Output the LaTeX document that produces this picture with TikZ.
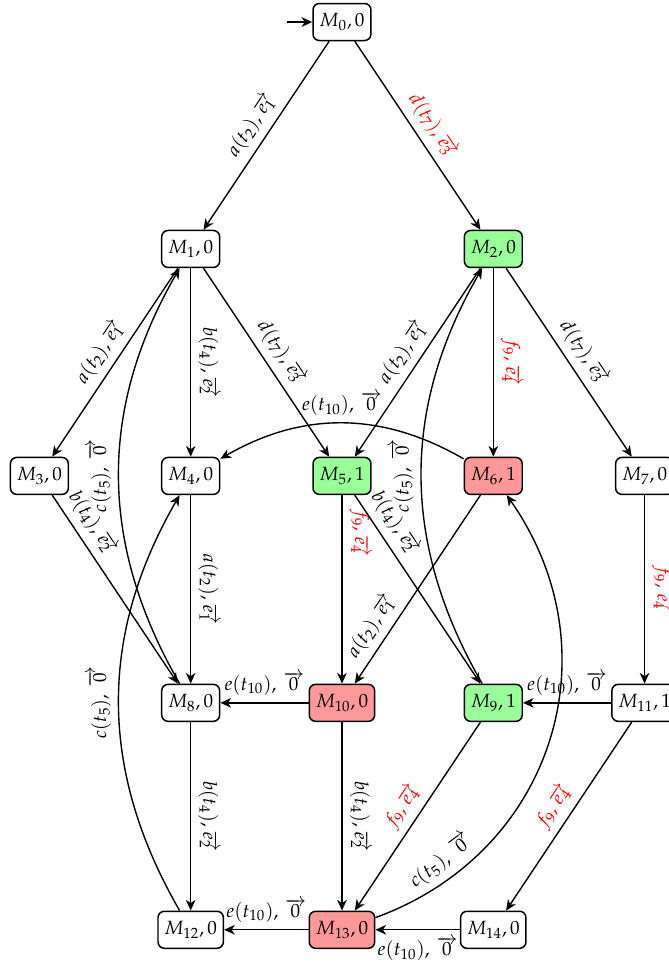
\documentclass[tikz,border=0pt]{standalone}
\usepackage{mathpazo}
\usepackage{tikz}
\usetikzlibrary{arrows.meta, positioning}
\definecolor{goodFill}{RGB}{153,255,153}
\definecolor{badFill}{RGB}{255,153,153}
\definecolor{hotText}{RGB}{255,0,0}
\tikzset{
  marking/.style={
    draw=black,
    line width=0.7pt,
    rounded corners=3pt,
    minimum height=17.4pt,
    inner xsep=3pt,
    inner ysep=2pt,
    fill=white
  },
  goodMarking/.style={marking, fill=goodFill},
  badMarking/.style={marking, fill=badFill},
  trans/.style={-{Stealth[length=5pt,width=4.5pt,inset=1.5pt]}, line width=0.65pt},
  initArrow/.style={-{Stealth[length=5pt,width=4.5pt,inset=1.5pt]}, thick},
  lbl/.style={sloped, above},
  hot/.style={lbl, text=hotText},
  upLbl/.style={rotate=90, anchor=south},
  downLbl/.style={rotate=-90, anchor=south},
  hotDown/.style={downLbl, text=hotText}
}
\begin{document}
\begin{tikzpicture}[node distance=3.75cm and 2.5cm, on grid, font=\small]
  \clip (-5.651,0.364) rectangle (5.403,-15.582);

  \node[marking] (M0) {$M_0,0$};
  \node[marking, below left=of M0] (M1) {$M_1,0$};
  \node[goodMarking, below right=of M0] (M2) {$M_2,0$};

  \node[marking, below=of M1] (M4) {$M_4,0$};
  \node[marking, left=of M4] (M3) {$M_3,0$};
  \node[goodMarking, right=of M4] (M5) {$M_5,1$};
  \node[badMarking, below=of M2] (M6) {$M_6,1$};
  \node[marking, right=of M6] (M7) {$M_7,0$};

  \node[marking, below=of M4] (M8) {$M_8,0$};
  \node[badMarking, below=of M5] (M10) {$M_{10},0$};
  \node[goodMarking, below=of M6] (M9) {$M_9,1$};
  \node[marking, below=of M7] (M11) {$M_{11},1$};

  \node[marking, below=of M8] (M12) {$M_{12},0$};
  \node[badMarking, below=of M10] (M13) {$M_{13},0$};
  \node[marking, below=of M9] (M14) {$M_{14},0$};

  \coordinate[left=0.91cm of M0] (init);
  \draw[initArrow] (init) -- (M0);

  \draw[trans] (M0) -- node[lbl] {$a(t_2),\overrightarrow{e_1}$} (M1);
  \draw[trans] (M0) -- node[hot] {$d(t_7),\overrightarrow{e_3}$} (M2);

  \draw[trans] (M1) -- node[lbl] {$a(t_2),\overrightarrow{e_1}$} (M3);
  \draw[trans] (M1) -- node[downLbl] {$b(t_4),\overrightarrow{e_2}$} (M4);
  \draw[trans] (M1) -- node[lbl] {$d(t_7),\overrightarrow{e_3}$} (M5);
  \draw[trans] (M2) -- node[lbl] {$a(t_2),\overrightarrow{e_1}$} (M5);
  \draw[trans] (M2) -- node[hotDown] {$f_9,\overrightarrow{e_4}$} (M6);
  \draw[trans] (M2) -- node[lbl] {$d(t_7),\overrightarrow{e_3}$} (M7);

  \draw[trans] (M6) to[bend right] node[above] {$e(t_{10}),\,\overrightarrow{0}$} (M4);
  \draw[trans] (M8) to[bend left] node[upLbl] {$c(t_5),\,\overrightarrow{0}$} (M1);
  \draw[trans] (M9) to[bend left] node[upLbl] {$c(t_5),\,\overrightarrow{0}$} (M2);
  \draw[trans] (M12) to[bend left] node[upLbl] {$c(t_5),\,\overrightarrow{0}$} (M4);
  \draw[trans] (M13) to[out=20, in=-55, looseness=1.1] node[lbl, pos=0.16] {$c(t_5),\,\overrightarrow{0}$} (M6);

  \draw[trans] (M3) -- node[lbl, pos=0.2] {$b(t_4),\overrightarrow{e_2}$} (M8);
  \draw[trans] (M4) -- node[downLbl] {$a(t_2),\overrightarrow{e_1}$} (M8);
  \draw[trans] (M5) -- node[hotDown, pos=0.2] {$f_9,\overrightarrow{e_4}$} (M10);
  \draw[trans] (M5) -- node[lbl, pos=0.2] {$b(t_4),\overrightarrow{e_2}$} (M9);
  \draw[trans] (M6) -- node[lbl, pos=0.75] {$a(t_2),\overrightarrow{e_1}$} (M10);
  \draw[trans] (M7) -- node[hotDown] {$f_9,\overrightarrow{e_4}$} (M11);

  \draw[trans] (M10) -- node[above] {$e(t_{10}),\,\overrightarrow{0}$} (M8);
  \draw[trans] (M11) -- node[above] {$e(t_{10}),\,\overrightarrow{0}$} (M9);

  \draw[trans] (M8) -- node[downLbl] {$b(t_4),\overrightarrow{e_2}$} (M12);
  \draw[trans] (M10) -- node[downLbl] {$b(t_4),\overrightarrow{e_2}$} (M13);
  \draw[trans] (M9) -- node[hot] {$f_9,\overrightarrow{e_4}$} (M13);
  \draw[trans] (M11) -- node[hot] {$f_9,\overrightarrow{e_4}$} (M14);

  \draw[trans] (M13) -- node[above] {$e(t_{10}),\,\overrightarrow{0}$} (M12);
  \draw[trans] (M14) -- node[below] {$e(t_{10}),\,\overrightarrow{0}$} (M13);
\end{tikzpicture}
\end{document}
